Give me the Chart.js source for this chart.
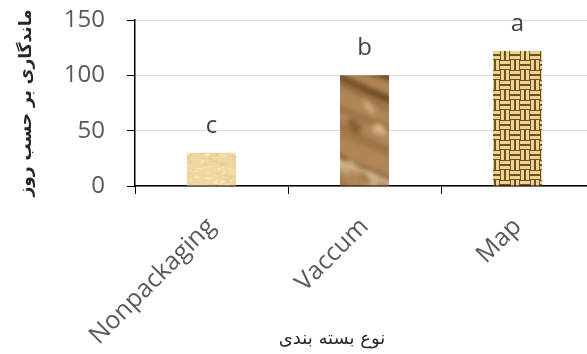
<!DOCTYPE html>
<html>
<head>
<meta charset="utf-8">
<script src="https://cdn.jsdelivr.net/npm/chart.js"></script>
<style>
  html, body { margin: 0; padding: 0; background: #fff; overflow: hidden; }
  #marco { width: 600px; height: 354px; }
</style>
</head>
<body>
<div id="marco"><canvas id="lienzo"></canvas></div>
<script>
const categorias = ['Nonpackaging', 'Vaccum', 'Map']
const valores = [30, 100, 122]
const letras = ['c', 'b', 'a']
const ticksY = [0, 50, 100, 150]
const tituloY = 'ماندگاری بر حسب روز'
const tituloX = 'نوع بسته بندی'

// ruido fijo para las texturas (solo estilo)
const ruido = (i) => {
    const v = Math.sin(i * 12.9898 + 78.233) * 43758.5453
    return v - Math.floor(v)
}

function papel() {
    const c = document.createElement('canvas')
    c.width = 48; c.height = 48
    const g = c.getContext('2d')
    g.fillStyle = '#f0d6a0'
    g.fillRect(0, 0, 48, 48)
    for (let i = 0; i < 120; i++) {
        const x = ruido(i) * 48, y = ruido(i + 500) * 48
        g.fillStyle = ruido(i + 900) > 0.5 ? 'rgba(255,240,205,0.4)' : 'rgba(210,165,95,0.18)'
        g.fillRect(x, y, 4, 2)
    }
    return g.createPattern(c, 'repeat')
}

function roca() {
    const c = document.createElement('canvas')
    c.width = 160; c.height = 220
    const g = c.getContext('2d')
    g.fillStyle = '#b08656'
    g.fillRect(0, 0, 160, 220)
    g.filter = 'blur(2.5px)'
    for (let k = 0; k < 16; k++) {
        const y0 = k * 15 - 30
        const r = ruido(k + 11)
        g.strokeStyle = r < 0.45 ? 'rgba(88,56,26,0.75)' : (r < 0.7 ? 'rgba(228,200,155,0.75)' : 'rgba(150,108,64,0.7)')
        g.lineWidth = 3 + ruido(k) * 7
        g.beginPath()
        g.moveTo(-10, y0)
        g.bezierCurveTo(30, y0 + 50 * ruido(k + 3), 70, y0 + 20 + 40 * ruido(k + 5), 170, y0 + 60 + 30 * ruido(k + 7))
        g.stroke()
    }
    for (let i = 0; i < 50; i++) {
        g.fillStyle = ruido(i + 40) > 0.55 ? 'rgba(95,62,30,0.55)' : 'rgba(235,212,172,0.55)'
        g.beginPath()
        g.ellipse(ruido(i + 100) * 160, ruido(i + 200) * 220, 3 + ruido(i) * 7, 2 + ruido(i + 1) * 4, 0.9, 0, Math.PI * 2)
        g.fill()
    }
    return g.createPattern(c, 'repeat')
}

function tejido() {
    const c = document.createElement('canvas')
    c.width = 20; c.height = 20
    const g = c.getContext('2d')
    g.fillStyle = '#6f501f'
    g.fillRect(0, 0, 20, 20)
    g.filter = 'blur(0.6px)'
    g.fillStyle = '#ead293'
    g.fillRect(0, 1, 10, 3); g.fillRect(0, 6, 10, 3)
    g.fillRect(11, 0, 3, 10); g.fillRect(16, 0, 3, 10)
    g.fillRect(1, 10, 3, 10); g.fillRect(6, 10, 3, 10)
    g.fillRect(10, 11, 10, 3); g.fillRect(10, 16, 10, 3)
    return g.createPattern(c, 'repeat')
}

const textos = {
    id: 'textos',
    afterDatasetsDraw(chart) {
        const ctx = chart.ctx
        const meta = chart.getDatasetMeta(0)
        ctx.save()
        ctx.fillStyle = '#404040'
        ctx.font = '24px "Open Sans"'
        ctx.textAlign = 'center'
        ctx.textBaseline = 'alphabetic'
        meta.data.forEach((barra, i) => {
            ctx.fillText(letras[i], barra.x, barra.y - 20)
        })
        ctx.font = '18px "DejaVu Sans"'
        ctx.fillStyle = '#262626'
        ctx.textBaseline = 'middle'
        ctx.fillText(tituloX, 332, 339)
        ctx.restore()
    }
}

new Chart(document.getElementById('lienzo'), {
    type: 'bar',
    data: {
        labels: categorias,
        datasets: [{
            data: valores,
            backgroundColor: [papel(), roca(), tejido()],
            borderWidth: 0,
            barPercentage: 0.32,
            categoryPercentage: 1
        }]
    },
    options: {
        responsive: true,
        maintainAspectRatio: false,
        devicePixelRatio: 1,
        animation: false,
        layout: { padding: { top: 20, right: 6, left: 0, bottom: 0 } },
        plugins: {
            legend: { display: false },
            tooltip: { enabled: false }
        },
        scales: {
            x: {
                afterFit: (s) => { s.height = 168 },
                grid: { drawOnChartArea: false, offset: true, tickLength: 8, tickColor: '#000', color: '#000' },
                border: { color: '#000', width: 1.5 },
                ticks: {
                    autoSkip: false,
                    minRotation: 45,
                    maxRotation: 45,
                    padding: 18,
                    color: '#595959',
                    font: { family: '"Open Sans"', size: 25 }
                }
            },
            y: {
                min: ticksY[0],
                max: ticksY[ticksY.length - 1],
                afterFit: (s) => {
                    s.width = 135
                    s.paddingTop = 0
                    s.paddingBottom = 0
                },
                grid: { color: '#d9d9d9', tickLength: 8, tickColor: '#000' },
                border: { color: '#000', width: 1.5 },
                ticks: {
                    stepSize: ticksY[1] - ticksY[0],
                    padding: 22,
                    color: '#595959',
                    font: { family: '"Open Sans"', size: 24 }
                },
                title: {
                    display: true,
                    text: tituloY,
                    color: '#262626',
                    padding: { top: 16, bottom: 0 },
                    font: { family: '"DejaVu Sans"', size: 17, weight: 'bold' }
                }
            }
        }
    },
    plugins: [textos]
})
</script>
</body>
</html>
